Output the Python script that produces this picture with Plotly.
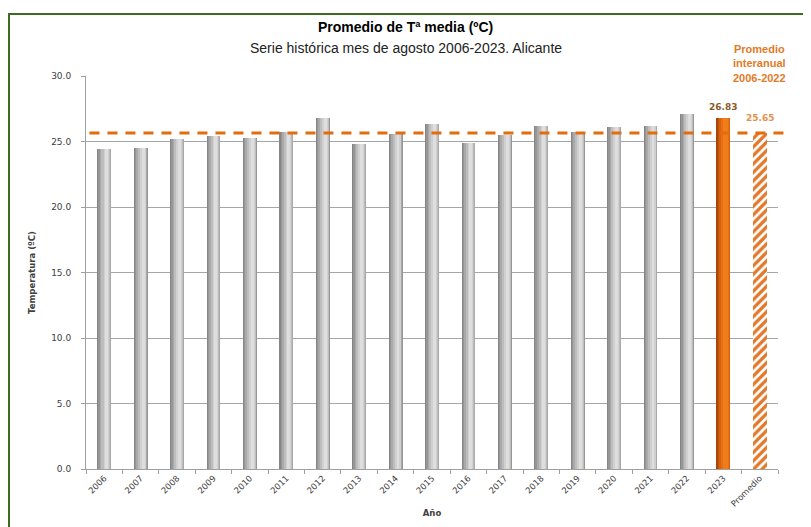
import plotly.graph_objects as go

# ---- data ----
years = ["2006", "2007", "2008", "2009", "2010", "2011", "2012", "2013", "2014",
         "2015", "2016", "2017", "2018", "2019", "2020", "2021", "2022"]
temps = [24.4, 24.5, 25.2, 25.4, 25.3, 25.7, 26.8, 24.8, 25.6,
         26.3, 24.9, 25.5, 26.2, 25.7, 26.1, 26.2, 27.1]
current_year = ["2023"]
current_temp = [26.83]
mean_label = ["Promedio"]
mean_temp = [25.65]
categories = years + current_year + mean_label

TITLE = "Promedio de Tª media (ºC)"
SUBTITLE = "Serie histórica mes de agosto 2006-2023. Alicante"

# ---- figure (page body has an 8px default margin) ----
OFF = 8
VW, VH = 811, 527
W, H = VW - OFF, VH - OFF
L, R, T, B = 86 - OFF, 33, 76 - OFF, 58
pw, ph = W - L - R, H - T - B

fig = go.Figure()

BW = 0.38
gray_layers = [(0.0, 1.0, "#858585"), (0.08, 1.0, "#969696"), (0.18, 0.97, "#a9a9a9"),
               (0.3, 0.92, "#bdbdbd"), (0.45, 0.86, "#d0d0d0"), (0.57, 0.78, "#dedede")]
orange_layers = [(0.0, 1.0, "#a8470a"), (0.1, 1.0, "#c0550b"), (0.22, 0.96, "#d8620c"),
                 (0.36, 0.9, "#e8700f"), (0.5, 0.82, "#f07d1c")]


def cylinder(xs, ys, layers):
    for a, b, col in layers:
        fig.add_trace(go.Bar(
            x=xs, y=ys, width=BW * (b - a), offset=-BW / 2 + BW * a,
            marker=dict(color=col, line=dict(width=0)),
            showlegend=False, hoverinfo="skip"))


cylinder(years, temps, gray_layers)
cylinder(current_year, current_temp, orange_layers)
fig.add_trace(go.Bar(
    x=mean_label, y=mean_temp, width=BW, offset=-BW / 2,
    marker=dict(color="white", line=dict(width=0),
                pattern=dict(shape="/", fgcolor="#e2782a", bgcolor="white", fgopacity=1,
                             size=6, solidity=0.55)),
    showlegend=False, hoverinfo="skip"))

# mean dashed line
fig.add_shape(type="line", xref="paper", yref="y", x0=0.005, x1=1.01,
              y0=mean_temp[0], y1=mean_temp[0],
              line=dict(color="#e46c0a", width=3, dash="10px,8px"))

# value labels (category positions as indices)
i_cur = categories.index(current_year[0])
i_mean = categories.index(mean_label[0])
fig.add_annotation(x=i_cur, y=current_temp[0], text="<b>%.2f</b>" % current_temp[0],
                   showarrow=False, yshift=11, font=dict(family="DejaVu Sans", size=9, color="#8a5a2a"))
fig.add_annotation(x=i_mean, y=mean_temp[0], text="<b>%.2f</b>" % mean_temp[0],
                   showarrow=False, yshift=15, font=dict(family="DejaVu Sans", size=9, color="#e3914a"))
fig.add_annotation(x=i_mean, xref="x", yref="paper", y=1.0,
                   text="<b>Promedio<br>interanual<br>2006-2022</b>", showarrow=False,
                   yanchor="bottom", yshift=-10, align="center",
                   font=dict(family="Liberation Sans", size=11, color="#e07b28"))

# titles
fig.add_annotation(xref="paper", yref="paper", x=(VW / 2 - OFF - L) / pw, y=(H - B - (27 - OFF)) / ph,
                   text="<b>" + TITLE + "</b>", showarrow=False, yanchor="middle",
                   font=dict(family="Liberation Sans", size=14, color="black"))
fig.add_annotation(xref="paper", yref="paper", x=(VW / 2 - OFF - L) / pw, y=(H - B - (48 - OFF)) / ph,
                   text=SUBTITLE, showarrow=False, yanchor="middle",
                   font=dict(family="Liberation Sans", size=14, color="#222222"))

# green border
fig.add_shape(type="rect", xref="paper", yref="paper",
              x0=(1 - L) / pw, x1=(W + 5 - L) / pw,
              y0=(H - B - (H + 5)) / ph, y1=(H - B - (14 - OFF)) / ph,
              line=dict(color="#3d6b1f", width=2), layer="below")

fig.update_layout(
    width=W, height=H, margin=dict(l=L, r=R, t=T, b=B, autoexpand=False),
    barmode="overlay", bargap=0, plot_bgcolor="white", paper_bgcolor="white",
    font=dict(family="DejaVu Sans", size=9, color="#404040"),
    xaxis=dict(type="category", categoryorder="array", categoryarray=categories,
               range=[-0.5, len(categories) - 0.5], tickangle=-45, automargin=False,
               ticks="outside", tickson="boundaries", ticklen=4, tickcolor="#a0a0a0",
               showline=True, linecolor="#a0a0a0", linewidth=1,
               tickfont=dict(family="DejaVu Sans", size=8.5, color="#404040"),
               title=dict(text="<b>Año</b>", standoff=2,
                          font=dict(family="DejaVu Sans", size=8.5, color="#404040"))),
    yaxis=dict(range=[0, 30], dtick=5, tickformat=".1f", automargin=False,
               showgrid=True, gridcolor="#a6a6a6", gridwidth=1,
               showline=True, linecolor="#a0a0a0", linewidth=1,
               ticks="outside", ticklen=4, tickcolor="#a0a0a0", zeroline=False,
               ticklabelstandoff=8,
               tickfont=dict(family="DejaVu Sans", size=9, color="#404040"),
               title=dict(text="<b>Temperatura (ºC)</b>", standoff=14,
                          font=dict(family="DejaVu Sans", size=8.5, color="#404040"))),
)

fig.write_html("out.html")
